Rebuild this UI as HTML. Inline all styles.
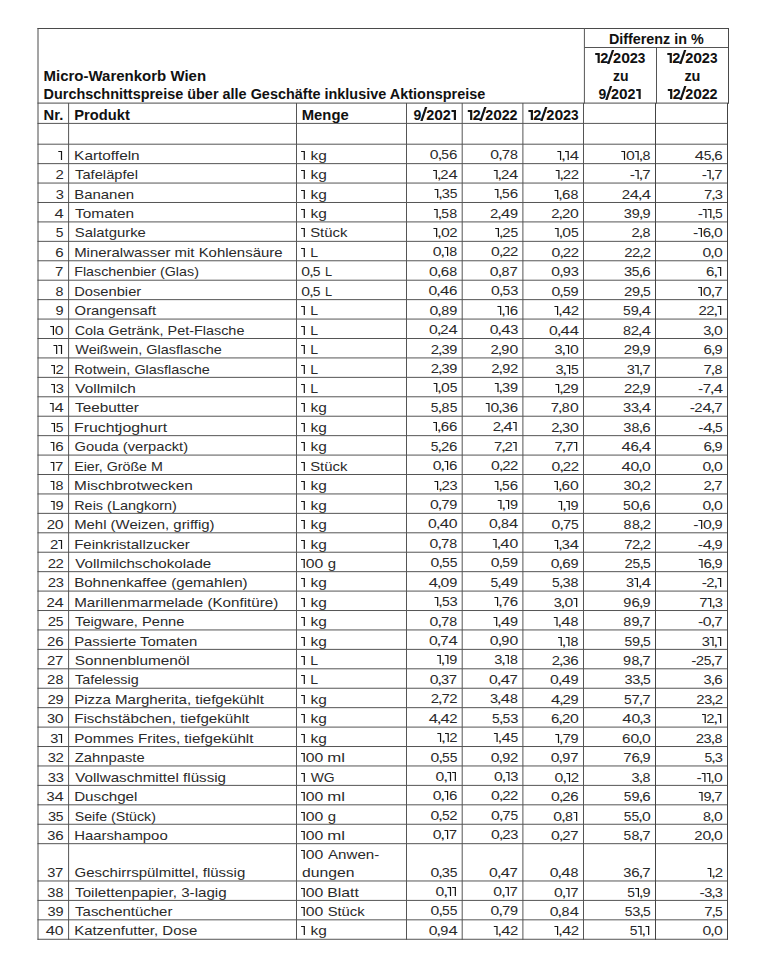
<!DOCTYPE html>
<html><head><meta charset="utf-8"><style>
html,body{margin:0;padding:0;background:#fff;width:765px;height:972px;overflow:hidden}
svg{position:absolute;left:0;top:0}
text,path{fill:#2a2a2a}
path{fill:#151515}
text{font-family:"Liberation Sans",sans-serif;font-size:13.0px}
text.b{font-weight:700;font-size:14.0px;fill:#111}
</style></head><body>
<svg width="765" height="972" viewBox="0 0 765 972">
<g stroke-width="1" fill="none">
<line x1="37.5" y1="28.50" x2="729.0" y2="28.50" stroke="#4a4a4a"/>
<line x1="584.4" y1="47.50" x2="728.5" y2="47.50" stroke="#555"/>
<line x1="37.5" y1="103.10" x2="729.0" y2="103.10" stroke="#4a4a4a"/>
<line x1="37.5" y1="123.40" x2="728.0" y2="123.40" stroke="#555"/>
<line x1="37.5" y1="144.20" x2="728.0" y2="144.20" stroke="#555"/>
<line x1="37.5" y1="163.63" x2="728.0" y2="163.63" stroke="#555"/>
<line x1="37.5" y1="183.06" x2="728.0" y2="183.06" stroke="#555"/>
<line x1="37.5" y1="202.49" x2="728.0" y2="202.49" stroke="#555"/>
<line x1="37.5" y1="221.92" x2="728.0" y2="221.92" stroke="#555"/>
<line x1="37.5" y1="241.35" x2="728.0" y2="241.35" stroke="#555"/>
<line x1="37.5" y1="260.78" x2="728.0" y2="260.78" stroke="#555"/>
<line x1="37.5" y1="280.21" x2="728.0" y2="280.21" stroke="#555"/>
<line x1="37.5" y1="299.64" x2="728.0" y2="299.64" stroke="#555"/>
<line x1="37.5" y1="319.07" x2="728.0" y2="319.07" stroke="#555"/>
<line x1="37.5" y1="338.50" x2="728.0" y2="338.50" stroke="#555"/>
<line x1="37.5" y1="357.93" x2="728.0" y2="357.93" stroke="#555"/>
<line x1="37.5" y1="377.36" x2="728.0" y2="377.36" stroke="#555"/>
<line x1="37.5" y1="396.79" x2="728.0" y2="396.79" stroke="#555"/>
<line x1="37.5" y1="416.22" x2="728.0" y2="416.22" stroke="#555"/>
<line x1="37.5" y1="435.65" x2="728.0" y2="435.65" stroke="#555"/>
<line x1="37.5" y1="455.08" x2="728.0" y2="455.08" stroke="#555"/>
<line x1="37.5" y1="474.51" x2="728.0" y2="474.51" stroke="#555"/>
<line x1="37.5" y1="493.94" x2="728.0" y2="493.94" stroke="#555"/>
<line x1="37.5" y1="513.37" x2="728.0" y2="513.37" stroke="#555"/>
<line x1="37.5" y1="532.80" x2="728.0" y2="532.80" stroke="#555"/>
<line x1="37.5" y1="552.23" x2="728.0" y2="552.23" stroke="#555"/>
<line x1="37.5" y1="571.66" x2="728.0" y2="571.66" stroke="#555"/>
<line x1="37.5" y1="591.09" x2="728.0" y2="591.09" stroke="#555"/>
<line x1="37.5" y1="610.52" x2="728.0" y2="610.52" stroke="#555"/>
<line x1="37.5" y1="629.95" x2="728.0" y2="629.95" stroke="#555"/>
<line x1="37.5" y1="649.38" x2="728.0" y2="649.38" stroke="#555"/>
<line x1="37.5" y1="668.81" x2="728.0" y2="668.81" stroke="#555"/>
<line x1="37.5" y1="688.24" x2="728.0" y2="688.24" stroke="#555"/>
<line x1="37.5" y1="707.67" x2="728.0" y2="707.67" stroke="#555"/>
<line x1="37.5" y1="727.10" x2="728.0" y2="727.10" stroke="#555"/>
<line x1="37.5" y1="746.53" x2="728.0" y2="746.53" stroke="#555"/>
<line x1="37.5" y1="765.96" x2="728.0" y2="765.96" stroke="#555"/>
<line x1="37.5" y1="785.39" x2="728.0" y2="785.39" stroke="#555"/>
<line x1="37.5" y1="804.82" x2="728.0" y2="804.82" stroke="#555"/>
<line x1="37.5" y1="824.25" x2="728.0" y2="824.25" stroke="#555"/>
<line x1="37.5" y1="843.68" x2="728.0" y2="843.68" stroke="#555"/>
<line x1="37.5" y1="880.98" x2="728.0" y2="880.98" stroke="#555"/>
<line x1="37.5" y1="900.41" x2="728.0" y2="900.41" stroke="#555"/>
<line x1="37.5" y1="919.84" x2="728.0" y2="919.84" stroke="#555"/>
<line x1="37.5" y1="939.27" x2="728.0" y2="939.27" stroke="#555"/>
<line x1="38.00" y1="28.00" x2="38.00" y2="939.77" stroke="#4a4a4a"/>
<line x1="68.60" y1="103.00" x2="68.60" y2="939.77" stroke="#555"/>
<line x1="296.50" y1="103.00" x2="296.50" y2="939.77" stroke="#555"/>
<line x1="406.50" y1="103.00" x2="406.50" y2="939.77" stroke="#555"/>
<line x1="462.20" y1="103.00" x2="462.20" y2="939.77" stroke="#555"/>
<line x1="522.90" y1="103.00" x2="522.90" y2="939.77" stroke="#555"/>
<line x1="583.50" y1="103.00" x2="583.50" y2="939.77" stroke="#555"/>
<line x1="655.50" y1="103.00" x2="655.50" y2="939.77" stroke="#444"/>
<line x1="727.50" y1="103.00" x2="727.50" y2="939.77" stroke="#444"/>
<line x1="584.40" y1="28.00" x2="584.40" y2="103.50" stroke="#555"/>
<line x1="656.50" y1="47.50" x2="656.50" y2="103.50" stroke="#555"/>
<line x1="728.50" y1="28.00" x2="728.50" y2="103.50" stroke="#4a4a4a"/>
</g>
<g>
<text class="b" transform="translate(43.54,81) scale(1.0716,1)">Micro-Warenkorb Wien</text>
<text class="b" transform="translate(43.57,99) scale(1.0322,1)">Durchschnittspreise über alle Geschäfte inklusive Aktionspreise</text>
<text class="b" transform="translate(608.88,44) scale(1.0261,1)">Differenz in %</text>
<path class="b" d="M595.20 53.00H599.77V63H597.57V55.00H595.20Z"/><text class="b" transform="translate(600.16,63) scale(1.0448,1)">2</text><path class="b" d="M607.08 63.90H609.38L614.19 50.00H611.89Z"/><text class="b" transform="translate(613.06,63) scale(1.0448,1)">2</text><text class="b" transform="translate(621.19,63) scale(1.1273,1)">0</text><text class="b" transform="translate(629.76,63) scale(1.0448,1)">2</text><text class="b" transform="translate(637.81,63) scale(0.9718,1)">3</text>
<text class="b" transform="translate(612.90,81) scale(1.0000,1)">zu</text>
<text class="b" transform="translate(598.50,99) scale(0.9941,1)">9</text><path class="b" d="M605.26 99.90H607.56L612.22 86.00H609.92Z"/><text class="b" transform="translate(611.12,99) scale(1.0229,1)">2</text><text class="b" transform="translate(619.07,99) scale(1.1037,1)">0</text><text class="b" transform="translate(627.47,99) scale(1.0229,1)">2</text><path class="b" d="M636.23 89.00H640.70V99H638.50V91.00H636.23Z"/>
<path class="b" d="M667.30 53.00H671.87V63H669.67V55.00H667.30Z"/><text class="b" transform="translate(672.26,63) scale(1.0448,1)">2</text><path class="b" d="M679.18 63.90H681.48L686.29 50.00H683.99Z"/><text class="b" transform="translate(685.16,63) scale(1.0448,1)">2</text><text class="b" transform="translate(693.29,63) scale(1.1273,1)">0</text><text class="b" transform="translate(701.86,63) scale(1.0448,1)">2</text><text class="b" transform="translate(709.91,63) scale(0.9718,1)">3</text>
<text class="b" transform="translate(684.38,81) scale(1.0352,1)">zu</text>
<path class="b" d="M667.80 89.00H672.30V99H670.10V91.00H667.80Z"/><text class="b" transform="translate(672.68,99) scale(1.0279,1)">2</text><path class="b" d="M679.49 99.90H681.79L686.48 86.00H684.18Z"/><text class="b" transform="translate(685.37,99) scale(1.0279,1)">2</text><text class="b" transform="translate(693.37,99) scale(1.1092,1)">0</text><text class="b" transform="translate(701.80,99) scale(1.0279,1)">2</text><text class="b" transform="translate(709.50,99) scale(1.0279,1)">2</text>
<text class="b" transform="translate(43.55,120) scale(1.0541,1)">Nr.</text>
<text class="b" transform="translate(74.25,120) scale(1.0516,1)">Produkt</text>
<text class="b" transform="translate(301.75,120) scale(1.0592,1)">Menge</text>
<text class="b" transform="translate(413.50,120) scale(1.0012,1)">9</text><path class="b" d="M420.31 120.90H422.61L427.32 107.00H425.02Z"/><text class="b" transform="translate(426.20,120) scale(1.0302,1)">2</text><text class="b" transform="translate(434.22,120) scale(1.1116,1)">0</text><text class="b" transform="translate(442.67,120) scale(1.0302,1)">2</text><path class="b" d="M451.49 110.00H456.00V120H453.80V112.00H451.49Z"/>
<path class="b" d="M467.80 110.00H472.29V120H470.09V112.00H467.80Z"/><text class="b" transform="translate(472.67,120) scale(1.0259,1)">2</text><path class="b" d="M479.46 120.90H481.76L486.44 107.00H484.14Z"/><text class="b" transform="translate(485.33,120) scale(1.0259,1)">2</text><text class="b" transform="translate(493.32,120) scale(1.1069,1)">0</text><text class="b" transform="translate(501.73,120) scale(1.0259,1)">2</text><text class="b" transform="translate(509.41,120) scale(1.0259,1)">2</text>
<path class="b" d="M528.40 110.00H532.97V120H530.77V112.00H528.40Z"/><text class="b" transform="translate(533.36,120) scale(1.0448,1)">2</text><path class="b" d="M540.28 120.90H542.58L547.39 107.00H545.09Z"/><text class="b" transform="translate(546.26,120) scale(1.0448,1)">2</text><text class="b" transform="translate(554.39,120) scale(1.1273,1)">0</text><text class="b" transform="translate(562.96,120) scale(1.0448,1)">2</text><text class="b" transform="translate(571.01,120) scale(0.9718,1)">3</text>
<path d="M58.30 151.00H62.10V160H60.90V152.10H58.30Z"/>
<text transform="translate(74.12,160) scale(1.1833,1)">Kartoffeln</text>
<path d="M301.10 151.00H304.90V160H303.70V152.10H301.10Z"/>
<text transform="translate(310.55,160) scale(1.1901,1)">kg</text>
<text transform="translate(429.79,159) scale(1.2143,1)">0</text><text transform="translate(437.20,159) scale(1.5000,1)">,</text><text transform="translate(441.32,159) scale(1.0645,1)">5</text><text transform="translate(449.05,159) scale(1.1639,1)">6</text>
<text transform="translate(490.29,159) scale(1.2143,1)">0</text><text transform="translate(497.70,159) scale(1.5000,1)">,</text><text transform="translate(501.66,159) scale(1.1500,1)">7</text><text transform="translate(510.00,159) scale(1.0968,1)">8</text>
<path d="M557.35 151.00H561.15V160H559.95V152.10H557.35Z"/><text transform="translate(560.65,160) scale(1.5000,1)">,</text><path d="M565.00 151.00H568.80V160H567.60V152.10H565.00Z"/><text transform="translate(569.69,160) scale(1.2836,1)">4</text>
<path d="M621.30 151.00H625.10V160H623.90V152.10H621.30Z"/><text transform="translate(625.94,160) scale(1.2143,1)">0</text><path d="M634.90 151.00H638.70V160H637.50V152.10H634.90Z"/><text transform="translate(638.20,160) scale(1.5000,1)">,</text><text transform="translate(642.60,160) scale(1.0968,1)">8</text>
<text transform="translate(694.79,160) scale(1.2836,1)">4</text><text transform="translate(703.82,160) scale(1.0645,1)">5</text><text transform="translate(710.20,160) scale(1.5000,1)">,</text><text transform="translate(714.35,160) scale(1.1639,1)">6</text>
<text transform="translate(55.51,179) scale(1.1500,1)">2</text>
<text transform="translate(75.07,179) scale(1.1324,1)">Tafeläpfel</text>
<path d="M301.10 170.00H304.90V179H303.70V171.10H301.10Z"/>
<text transform="translate(310.55,179) scale(1.1901,1)">kg</text>
<path d="M433.10 170.00H436.90V179H435.70V171.10H433.10Z"/><text transform="translate(436.40,179) scale(1.5000,1)">,</text><text transform="translate(440.26,179) scale(1.1500,1)">2</text><text transform="translate(448.39,179) scale(1.2836,1)">4</text>
<path d="M493.80 170.00H497.60V179H496.40V171.10H493.80Z"/><text transform="translate(497.10,179) scale(1.5000,1)">,</text><text transform="translate(500.96,179) scale(1.1500,1)">2</text><text transform="translate(509.09,179) scale(1.2836,1)">4</text>
<path d="M555.70 170.00H559.50V179H558.30V171.10H555.70Z"/><text transform="translate(559.00,179) scale(1.5000,1)">,</text><text transform="translate(562.86,179) scale(1.1500,1)">2</text><text transform="translate(570.66,179) scale(1.1500,1)">2</text>
<text transform="translate(629.79,179) scale(1.2121,1)">-</text><path d="M634.90 170.00H638.70V179H637.50V171.10H634.90Z"/><text transform="translate(638.20,179) scale(1.5000,1)">,</text><text transform="translate(642.16,179) scale(1.1500,1)">7</text>
<text transform="translate(701.79,179) scale(1.2121,1)">-</text><path d="M706.90 170.00H710.70V179H709.50V171.10H706.90Z"/><text transform="translate(710.20,179) scale(1.5000,1)">,</text><text transform="translate(714.16,179) scale(1.1500,1)">7</text>
<text transform="translate(55.65,199) scale(1.1270,1)">3</text>
<text transform="translate(74.15,199) scale(1.1529,1)">Bananen</text>
<path d="M301.10 190.00H304.90V199H303.70V191.10H301.10Z"/>
<text transform="translate(310.55,199) scale(1.1901,1)">kg</text>
<path d="M434.50 189.00H438.30V198H437.10V190.10H434.50Z"/><text transform="translate(437.80,198) scale(1.5000,1)">,</text><text transform="translate(441.80,198) scale(1.1270,1)">3</text><text transform="translate(449.72,198) scale(1.0645,1)">5</text>
<path d="M494.60 189.00H498.40V198H497.20V190.10H494.60Z"/><text transform="translate(497.90,198) scale(1.5000,1)">,</text><text transform="translate(502.02,198) scale(1.0645,1)">5</text><text transform="translate(509.75,198) scale(1.1639,1)">6</text>
<path d="M554.50 190.00H558.30V199H557.10V191.10H554.50Z"/><text transform="translate(557.80,199) scale(1.5000,1)">,</text><text transform="translate(561.95,199) scale(1.1639,1)">6</text><text transform="translate(570.60,199) scale(1.0968,1)">8</text>
<text transform="translate(621.66,199) scale(1.1500,1)">2</text><text transform="translate(629.79,199) scale(1.2836,1)">4</text><text transform="translate(637.50,199) scale(1.5000,1)">,</text><text transform="translate(641.69,199) scale(1.2836,1)">4</text>
<text transform="translate(704.06,199) scale(1.1500,1)">7</text><text transform="translate(710.80,199) scale(1.5000,1)">,</text><text transform="translate(714.80,199) scale(1.1270,1)">3</text>
<text transform="translate(54.54,218) scale(1.2836,1)">4</text>
<text transform="translate(75.06,218) scale(1.1857,1)">Tomaten</text>
<path d="M301.10 209.00H304.90V218H303.70V210.10H301.10Z"/>
<text transform="translate(310.55,218) scale(1.1901,1)">kg</text>
<path d="M433.90 209.00H437.70V218H436.50V210.10H433.90Z"/><text transform="translate(437.20,218) scale(1.5000,1)">,</text><text transform="translate(441.32,218) scale(1.0645,1)">5</text><text transform="translate(449.30,218) scale(1.0968,1)">8</text>
<text transform="translate(490.06,218) scale(1.1500,1)">2</text><text transform="translate(496.80,218) scale(1.5000,1)">,</text><text transform="translate(500.99,218) scale(1.2836,1)">4</text><text transform="translate(509.98,218) scale(1.1148,1)">9</text>
<text transform="translate(551.31,218) scale(1.1500,1)">2</text><text transform="translate(558.05,218) scale(1.5000,1)">,</text><text transform="translate(561.91,218) scale(1.1500,1)">2</text><text transform="translate(569.99,218) scale(1.2143,1)">0</text>
<text transform="translate(623.80,218) scale(1.1270,1)">3</text><text transform="translate(631.68,218) scale(1.1148,1)">9</text><text transform="translate(638.50,218) scale(1.5000,1)">,</text><text transform="translate(642.58,218) scale(1.1148,1)">9</text>
<text transform="translate(697.64,218) scale(1.2121,1)">-</text><path d="M702.75 209.00H706.55V218H705.35V210.10H702.75Z"/><path d="M707.60 209.00H711.40V218H710.20V210.10H707.60Z"/><text transform="translate(710.90,218) scale(1.5000,1)">,</text><text transform="translate(715.02,218) scale(1.0645,1)">5</text>
<text transform="translate(55.87,237) scale(1.0645,1)">5</text>
<text transform="translate(74.73,237) scale(1.1453,1)">Salatgurke</text>
<path d="M301.10 228.00H304.90V237H303.70V229.10H301.10Z"/>
<text transform="translate(310.13,237) scale(1.1460,1)">Stück</text>
<path d="M433.45 228.00H437.25V237H436.05V229.10H433.45Z"/><text transform="translate(436.75,237) scale(1.5000,1)">,</text><text transform="translate(440.89,237) scale(1.2143,1)">0</text><text transform="translate(449.36,237) scale(1.1500,1)">2</text>
<path d="M495.20 228.00H499.00V237H497.80V229.10H495.20Z"/><text transform="translate(498.50,237) scale(1.5000,1)">,</text><text transform="translate(502.36,237) scale(1.1500,1)">2</text><text transform="translate(510.42,237) scale(1.0645,1)">5</text>
<path d="M554.85 228.00H558.65V237H557.45V229.10H554.85Z"/><text transform="translate(558.15,237) scale(1.5000,1)">,</text><text transform="translate(562.29,237) scale(1.2143,1)">0</text><text transform="translate(571.02,237) scale(1.0645,1)">5</text>
<text transform="translate(631.46,237) scale(1.1500,1)">2</text><text transform="translate(638.20,237) scale(1.5000,1)">,</text><text transform="translate(642.60,237) scale(1.0968,1)">8</text>
<text transform="translate(693.04,237) scale(1.2121,1)">-</text><path d="M698.15 228.00H701.95V237H700.75V229.10H698.15Z"/><text transform="translate(702.80,237) scale(1.1639,1)">6</text><text transform="translate(709.85,237) scale(1.5000,1)">,</text><text transform="translate(713.99,237) scale(1.2143,1)">0</text>
<text transform="translate(55.20,257) scale(1.1639,1)">6</text>
<text transform="translate(74.15,257) scale(1.1495,1)">Mineralwasser mit Kohlensäure</text>
<path d="M301.10 248.00H304.90V257H303.70V249.10H301.10Z"/>
<text transform="translate(310.31,257) scale(1.0862,1)">L</text>
<text transform="translate(432.64,256) scale(1.2143,1)">0</text><text transform="translate(440.05,256) scale(1.5000,1)">,</text><path d="M444.40 247.00H448.20V256H447.00V248.10H444.40Z"/><text transform="translate(449.30,256) scale(1.0968,1)">8</text>
<text transform="translate(490.99,256) scale(1.2143,1)">0</text><text transform="translate(498.40,256) scale(1.5000,1)">,</text><text transform="translate(502.26,256) scale(1.1500,1)">2</text><text transform="translate(510.06,256) scale(1.1500,1)">2</text>
<text transform="translate(551.59,257) scale(1.2143,1)">0</text><text transform="translate(559.00,257) scale(1.5000,1)">,</text><text transform="translate(562.86,257) scale(1.1500,1)">2</text><text transform="translate(570.66,257) scale(1.1500,1)">2</text>
<text transform="translate(624.26,257) scale(1.1500,1)">2</text><text transform="translate(632.06,257) scale(1.1500,1)">2</text><text transform="translate(638.80,257) scale(1.5000,1)">,</text><text transform="translate(642.66,257) scale(1.1500,1)">2</text>
<text transform="translate(702.44,257) scale(1.2143,1)">0</text><text transform="translate(709.85,257) scale(1.5000,1)">,</text><text transform="translate(713.99,257) scale(1.2143,1)">0</text>
<text transform="translate(55.01,276) scale(1.1500,1)">7</text>
<text transform="translate(74.20,276) scale(1.1003,1)">Flaschenbier (Glas)</text>
<text transform="translate(301.29,276) scale(1.2143,1)">0</text><text transform="translate(308.70,276) scale(1.5000,1)">,</text><text transform="translate(312.82,276) scale(1.0645,1)">5</text>
<text transform="translate(325.02,276) scale(0.9828,1)">L</text>
<text transform="translate(429.09,276) scale(1.2143,1)">0</text><text transform="translate(436.50,276) scale(1.5000,1)">,</text><text transform="translate(440.65,276) scale(1.1639,1)">6</text><text transform="translate(449.30,276) scale(1.0968,1)">8</text>
<text transform="translate(489.79,276) scale(1.2143,1)">0</text><text transform="translate(497.20,276) scale(1.5000,1)">,</text><text transform="translate(501.60,276) scale(1.0968,1)">8</text><text transform="translate(509.56,276) scale(1.1500,1)">7</text>
<text transform="translate(551.29,276) scale(1.2143,1)">0</text><text transform="translate(558.70,276) scale(1.5000,1)">,</text><text transform="translate(562.78,276) scale(1.1148,1)">9</text><text transform="translate(570.80,276) scale(1.1270,1)">3</text>
<text transform="translate(623.90,276) scale(1.1270,1)">3</text><text transform="translate(631.82,276) scale(1.0645,1)">5</text><text transform="translate(638.20,276) scale(1.5000,1)">,</text><text transform="translate(642.35,276) scale(1.1639,1)">6</text>
<text transform="translate(706.05,276) scale(1.1639,1)">6</text><text transform="translate(713.10,276) scale(1.5000,1)">,</text><path d="M717.45 267.00H721.25V276H720.05V268.10H717.45Z"/>
<text transform="translate(55.45,296) scale(1.0968,1)">8</text>
<text transform="translate(74.17,296) scale(1.1320,1)">Dosenbier</text>
<text transform="translate(301.29,296) scale(1.2143,1)">0</text><text transform="translate(308.70,296) scale(1.5000,1)">,</text><text transform="translate(312.82,296) scale(1.0645,1)">5</text>
<text transform="translate(325.02,296) scale(0.9828,1)">L</text>
<text transform="translate(428.39,295) scale(1.2143,1)">0</text><text transform="translate(435.80,295) scale(1.5000,1)">,</text><text transform="translate(439.99,295) scale(1.2836,1)">4</text><text transform="translate(449.05,295) scale(1.1639,1)">6</text>
<text transform="translate(491.09,295) scale(1.2143,1)">0</text><text transform="translate(498.50,295) scale(1.5000,1)">,</text><text transform="translate(502.62,295) scale(1.0645,1)">5</text><text transform="translate(510.20,295) scale(1.1270,1)">3</text>
<text transform="translate(551.39,296) scale(1.2143,1)">0</text><text transform="translate(558.80,296) scale(1.5000,1)">,</text><text transform="translate(562.92,296) scale(1.0645,1)">5</text><text transform="translate(570.58,296) scale(1.1148,1)">9</text>
<text transform="translate(624.06,296) scale(1.1500,1)">2</text><text transform="translate(632.08,296) scale(1.1148,1)">9</text><text transform="translate(638.90,296) scale(1.5000,1)">,</text><text transform="translate(643.02,296) scale(1.0645,1)">5</text>
<path d="M698.15 287.00H701.95V296H700.75V288.10H698.15Z"/><text transform="translate(702.79,296) scale(1.2143,1)">0</text><text transform="translate(710.20,296) scale(1.5000,1)">,</text><text transform="translate(714.16,296) scale(1.1500,1)">7</text>
<text transform="translate(55.43,315) scale(1.1148,1)">9</text>
<text transform="translate(74.62,315) scale(1.1391,1)">Orangensaft</text>
<path d="M301.10 306.00H304.90V315H303.70V307.10H301.10Z"/>
<text transform="translate(310.31,315) scale(1.0862,1)">L</text>
<text transform="translate(429.39,315) scale(1.2143,1)">0</text><text transform="translate(436.80,315) scale(1.5000,1)">,</text><text transform="translate(441.20,315) scale(1.0968,1)">8</text><text transform="translate(449.28,315) scale(1.1148,1)">9</text>
<path d="M497.45 306.00H501.25V315H500.05V307.10H497.45Z"/><text transform="translate(500.75,315) scale(1.5000,1)">,</text><path d="M505.10 306.00H508.90V315H507.70V307.10H505.10Z"/><text transform="translate(509.75,315) scale(1.1639,1)">6</text>
<path d="M554.40 306.00H558.20V315H557.00V307.10H554.40Z"/><text transform="translate(557.70,315) scale(1.5000,1)">,</text><text transform="translate(561.89,315) scale(1.2836,1)">4</text><text transform="translate(570.66,315) scale(1.1500,1)">2</text>
<text transform="translate(623.02,315) scale(1.0645,1)">5</text><text transform="translate(630.68,315) scale(1.1148,1)">9</text><text transform="translate(637.50,315) scale(1.5000,1)">,</text><text transform="translate(641.69,315) scale(1.2836,1)">4</text>
<text transform="translate(698.56,315) scale(1.1500,1)">2</text><text transform="translate(706.36,315) scale(1.1500,1)">2</text><text transform="translate(713.10,315) scale(1.5000,1)">,</text><path d="M717.45 306.00H721.25V315H720.05V307.10H717.45Z"/>
<path d="M50.20 326.00H54.00V335H52.80V327.10H50.20Z"/><text transform="translate(54.84,335) scale(1.2143,1)">0</text>
<text transform="translate(74.63,335) scale(1.1089,1)">Cola Getränk, Pet-Flasche</text>
<path d="M301.10 326.00H304.90V335H303.70V327.10H301.10Z"/>
<text transform="translate(310.31,335) scale(1.0862,1)">L</text>
<text transform="translate(428.99,334) scale(1.2143,1)">0</text><text transform="translate(436.40,334) scale(1.5000,1)">,</text><text transform="translate(440.26,334) scale(1.1500,1)">2</text><text transform="translate(448.39,334) scale(1.2836,1)">4</text>
<text transform="translate(489.69,334) scale(1.2143,1)">0</text><text transform="translate(497.10,334) scale(1.5000,1)">,</text><text transform="translate(501.29,334) scale(1.2836,1)">4</text><text transform="translate(510.20,334) scale(1.1270,1)">3</text>
<text transform="translate(548.99,335) scale(1.2143,1)">0</text><text transform="translate(556.40,335) scale(1.5000,1)">,</text><text transform="translate(560.59,335) scale(1.2836,1)">4</text><text transform="translate(569.69,335) scale(1.2836,1)">4</text>
<text transform="translate(622.90,335) scale(1.0968,1)">8</text><text transform="translate(630.76,335) scale(1.1500,1)">2</text><text transform="translate(637.50,335) scale(1.5000,1)">,</text><text transform="translate(641.69,335) scale(1.2836,1)">4</text>
<text transform="translate(703.25,335) scale(1.1270,1)">3</text><text transform="translate(709.85,335) scale(1.5000,1)">,</text><text transform="translate(713.99,335) scale(1.2143,1)">0</text>
<path d="M53.45 345.00H57.25V354H56.05V346.10H53.45Z"/><path d="M58.30 345.00H62.10V354H60.90V346.10H58.30Z"/>
<text transform="translate(75.30,354) scale(1.1107,1)">Weißwein, Glasflasche</text>
<path d="M301.10 345.00H304.90V354H303.70V346.10H301.10Z"/>
<text transform="translate(310.31,354) scale(1.0862,1)">L</text>
<text transform="translate(430.66,354) scale(1.1500,1)">2</text><text transform="translate(437.40,354) scale(1.5000,1)">,</text><text transform="translate(441.40,354) scale(1.1270,1)">3</text><text transform="translate(449.28,354) scale(1.1148,1)">9</text>
<text transform="translate(490.41,354) scale(1.1500,1)">2</text><text transform="translate(497.15,354) scale(1.5000,1)">,</text><text transform="translate(501.23,354) scale(1.1148,1)">9</text><text transform="translate(509.39,354) scale(1.2143,1)">0</text>
<text transform="translate(554.40,354) scale(1.1270,1)">3</text><text transform="translate(561.00,354) scale(1.5000,1)">,</text><path d="M565.35 345.00H569.15V354H567.95V346.10H565.35Z"/><text transform="translate(569.99,354) scale(1.2143,1)">0</text>
<text transform="translate(623.66,354) scale(1.1500,1)">2</text><text transform="translate(631.68,354) scale(1.1148,1)">9</text><text transform="translate(638.50,354) scale(1.5000,1)">,</text><text transform="translate(642.58,354) scale(1.1148,1)">9</text>
<text transform="translate(703.45,354) scale(1.1639,1)">6</text><text transform="translate(710.50,354) scale(1.5000,1)">,</text><text transform="translate(714.58,354) scale(1.1148,1)">9</text>
<path d="M51.15 365.00H54.95V374H53.75V366.10H51.15Z"/><text transform="translate(55.51,374) scale(1.1500,1)">2</text>
<text transform="translate(74.19,374) scale(1.1113,1)">Rotwein, Glasflasche</text>
<path d="M301.10 365.00H304.90V374H303.70V366.10H301.10Z"/>
<text transform="translate(310.31,374) scale(1.0862,1)">L</text>
<text transform="translate(430.66,373) scale(1.1500,1)">2</text><text transform="translate(437.40,373) scale(1.5000,1)">,</text><text transform="translate(441.40,373) scale(1.1270,1)">3</text><text transform="translate(449.28,373) scale(1.1148,1)">9</text>
<text transform="translate(491.36,373) scale(1.1500,1)">2</text><text transform="translate(498.10,373) scale(1.5000,1)">,</text><text transform="translate(502.18,373) scale(1.1148,1)">9</text><text transform="translate(510.06,373) scale(1.1500,1)">2</text>
<text transform="translate(555.45,374) scale(1.1270,1)">3</text><text transform="translate(562.05,374) scale(1.5000,1)">,</text><path d="M566.40 365.00H570.20V374H569.00V366.10H566.40Z"/><text transform="translate(571.02,374) scale(1.0645,1)">5</text>
<text transform="translate(626.75,374) scale(1.1270,1)">3</text><path d="M634.90 365.00H638.70V374H637.50V366.10H634.90Z"/><text transform="translate(638.20,374) scale(1.5000,1)">,</text><text transform="translate(642.16,374) scale(1.1500,1)">7</text>
<text transform="translate(703.46,374) scale(1.1500,1)">7</text><text transform="translate(710.20,374) scale(1.5000,1)">,</text><text transform="translate(714.60,374) scale(1.0968,1)">8</text>
<path d="M51.15 384.00H54.95V393H53.75V385.10H51.15Z"/><text transform="translate(55.65,393) scale(1.1270,1)">3</text>
<text transform="translate(75.30,393) scale(1.1830,1)">Vollmilch</text>
<path d="M301.10 384.00H304.90V393H303.70V385.10H301.10Z"/>
<text transform="translate(310.31,393) scale(1.0862,1)">L</text>
<path d="M433.55 383.00H437.35V392H436.15V384.10H433.55Z"/><text transform="translate(436.85,392) scale(1.5000,1)">,</text><text transform="translate(440.99,392) scale(1.2143,1)">0</text><text transform="translate(449.72,392) scale(1.0645,1)">5</text>
<path d="M494.80 383.00H498.60V392H497.40V384.10H494.80Z"/><text transform="translate(498.10,392) scale(1.5000,1)">,</text><text transform="translate(502.10,392) scale(1.1270,1)">3</text><text transform="translate(509.98,392) scale(1.1148,1)">9</text>
<path d="M555.40 384.00H559.20V393H558.00V385.10H555.40Z"/><text transform="translate(558.70,393) scale(1.5000,1)">,</text><text transform="translate(562.56,393) scale(1.1500,1)">2</text><text transform="translate(570.58,393) scale(1.1148,1)">9</text>
<text transform="translate(623.96,393) scale(1.1500,1)">2</text><text transform="translate(631.76,393) scale(1.1500,1)">2</text><text transform="translate(638.50,393) scale(1.5000,1)">,</text><text transform="translate(642.58,393) scale(1.1148,1)">9</text>
<text transform="translate(698.04,393) scale(1.2121,1)">-</text><text transform="translate(702.76,393) scale(1.1500,1)">7</text><text transform="translate(709.50,393) scale(1.5000,1)">,</text><text transform="translate(713.69,393) scale(1.2836,1)">4</text>
<path d="M49.85 403.00H53.65V412H52.45V404.10H49.85Z"/><text transform="translate(54.54,412) scale(1.2836,1)">4</text>
<text transform="translate(75.06,412) scale(1.1768,1)">Teebutter</text>
<path d="M301.10 403.00H304.90V412H303.70V404.10H301.10Z"/>
<text transform="translate(310.55,412) scale(1.1901,1)">kg</text>
<text transform="translate(430.82,412) scale(1.0645,1)">5</text><text transform="translate(437.20,412) scale(1.5000,1)">,</text><text transform="translate(441.60,412) scale(1.0968,1)">8</text><text transform="translate(449.72,412) scale(1.0645,1)">5</text>
<path d="M485.75 403.00H489.55V412H488.35V404.10H485.75Z"/><text transform="translate(490.39,412) scale(1.2143,1)">0</text><text transform="translate(497.80,412) scale(1.5000,1)">,</text><text transform="translate(501.80,412) scale(1.1270,1)">3</text><text transform="translate(509.75,412) scale(1.1639,1)">6</text>
<text transform="translate(550.71,412) scale(1.1500,1)">7</text><text transform="translate(557.45,412) scale(1.5000,1)">,</text><text transform="translate(561.85,412) scale(1.0968,1)">8</text><text transform="translate(569.99,412) scale(1.2143,1)">0</text>
<text transform="translate(623.10,412) scale(1.1270,1)">3</text><text transform="translate(630.90,412) scale(1.1270,1)">3</text><text transform="translate(637.50,412) scale(1.5000,1)">,</text><text transform="translate(641.69,412) scale(1.2836,1)">4</text>
<text transform="translate(689.74,412) scale(1.2121,1)">-</text><text transform="translate(694.36,412) scale(1.1500,1)">2</text><text transform="translate(702.49,412) scale(1.2836,1)">4</text><text transform="translate(710.20,412) scale(1.5000,1)">,</text><text transform="translate(714.16,412) scale(1.1500,1)">7</text>
<path d="M51.25 423.00H55.05V432H53.85V424.10H51.25Z"/><text transform="translate(55.87,432) scale(1.0645,1)">5</text>
<text transform="translate(74.08,432) scale(1.2159,1)">Fruchtjoghurt</text>
<path d="M301.10 423.00H304.90V432H303.70V424.10H301.10Z"/>
<text transform="translate(310.55,432) scale(1.1901,1)">kg</text>
<path d="M433.20 422.00H437.00V431H435.80V423.10H433.20Z"/><text transform="translate(436.50,431) scale(1.5000,1)">,</text><text transform="translate(440.65,431) scale(1.1639,1)">6</text><text transform="translate(449.05,431) scale(1.1639,1)">6</text>
<text transform="translate(492.66,431) scale(1.1500,1)">2</text><text transform="translate(499.40,431) scale(1.5000,1)">,</text><text transform="translate(503.59,431) scale(1.2836,1)">4</text><path d="M512.85 422.00H516.65V431H515.45V423.10H512.85Z"/>
<text transform="translate(551.31,432) scale(1.1500,1)">2</text><text transform="translate(558.05,432) scale(1.5000,1)">,</text><text transform="translate(562.05,432) scale(1.1270,1)">3</text><text transform="translate(569.99,432) scale(1.2143,1)">0</text>
<text transform="translate(623.20,432) scale(1.1270,1)">3</text><text transform="translate(631.40,432) scale(1.0968,1)">8</text><text transform="translate(638.20,432) scale(1.5000,1)">,</text><text transform="translate(642.35,432) scale(1.1639,1)">6</text>
<text transform="translate(698.24,432) scale(1.2121,1)">-</text><text transform="translate(703.19,432) scale(1.2836,1)">4</text><text transform="translate(710.90,432) scale(1.5000,1)">,</text><text transform="translate(715.02,432) scale(1.0645,1)">5</text>
<path d="M50.55 442.00H54.35V451H53.15V443.10H50.55Z"/><text transform="translate(55.20,451) scale(1.1639,1)">6</text>
<text transform="translate(74.62,451) scale(1.1311,1)">Gouda (verpackt)</text>
<path d="M301.10 442.00H304.90V451H303.70V443.10H301.10Z"/>
<text transform="translate(310.55,451) scale(1.1901,1)">kg</text>
<text transform="translate(430.72,451) scale(1.0645,1)">5</text><text transform="translate(437.10,451) scale(1.5000,1)">,</text><text transform="translate(440.96,451) scale(1.1500,1)">2</text><text transform="translate(449.05,451) scale(1.1639,1)">6</text>
<text transform="translate(493.96,451) scale(1.1500,1)">7</text><text transform="translate(500.70,451) scale(1.5000,1)">,</text><text transform="translate(504.56,451) scale(1.1500,1)">2</text><path d="M512.85 442.00H516.65V451H515.45V443.10H512.85Z"/>
<text transform="translate(554.46,451) scale(1.1500,1)">7</text><text transform="translate(561.20,451) scale(1.5000,1)">,</text><text transform="translate(565.16,451) scale(1.1500,1)">7</text><path d="M573.45 442.00H577.25V451H576.05V443.10H573.45Z"/>
<text transform="translate(621.39,451) scale(1.2836,1)">4</text><text transform="translate(630.45,451) scale(1.1639,1)">6</text><text transform="translate(637.50,451) scale(1.5000,1)">,</text><text transform="translate(641.69,451) scale(1.2836,1)">4</text>
<text transform="translate(703.45,451) scale(1.1639,1)">6</text><text transform="translate(710.50,451) scale(1.5000,1)">,</text><text transform="translate(714.58,451) scale(1.1148,1)">9</text>
<path d="M50.55 462.00H54.35V471H53.15V463.10H50.55Z"/><text transform="translate(55.01,471) scale(1.1500,1)">7</text>
<text transform="translate(74.20,471) scale(1.0966,1)">Eier, Größe M</text>
<path d="M301.10 462.00H304.90V471H303.70V463.10H301.10Z"/>
<text transform="translate(310.13,471) scale(1.1460,1)">Stück</text>
<text transform="translate(432.64,470) scale(1.2143,1)">0</text><text transform="translate(440.05,470) scale(1.5000,1)">,</text><path d="M444.40 461.00H448.20V470H447.00V462.10H444.40Z"/><text transform="translate(449.05,470) scale(1.1639,1)">6</text>
<text transform="translate(490.99,470) scale(1.2143,1)">0</text><text transform="translate(498.40,470) scale(1.5000,1)">,</text><text transform="translate(502.26,470) scale(1.1500,1)">2</text><text transform="translate(510.06,470) scale(1.1500,1)">2</text>
<text transform="translate(551.59,471) scale(1.2143,1)">0</text><text transform="translate(559.00,471) scale(1.5000,1)">,</text><text transform="translate(562.86,471) scale(1.1500,1)">2</text><text transform="translate(570.66,471) scale(1.1500,1)">2</text>
<text transform="translate(621.39,471) scale(1.2836,1)">4</text><text transform="translate(630.44,471) scale(1.2143,1)">0</text><text transform="translate(637.85,471) scale(1.5000,1)">,</text><text transform="translate(641.99,471) scale(1.2143,1)">0</text>
<text transform="translate(702.44,471) scale(1.2143,1)">0</text><text transform="translate(709.85,471) scale(1.5000,1)">,</text><text transform="translate(713.99,471) scale(1.2143,1)">0</text>
<path d="M50.55 481.00H54.35V490H53.15V482.10H50.55Z"/><text transform="translate(55.45,490) scale(1.0968,1)">8</text>
<text transform="translate(74.12,490) scale(1.1826,1)">Mischbrotwecken</text>
<path d="M301.10 481.00H304.90V490H303.70V482.10H301.10Z"/>
<text transform="translate(310.55,490) scale(1.1901,1)">kg</text>
<path d="M434.40 481.00H438.20V490H437.00V482.10H434.40Z"/><text transform="translate(437.70,490) scale(1.5000,1)">,</text><text transform="translate(441.56,490) scale(1.1500,1)">2</text><text transform="translate(449.50,490) scale(1.1270,1)">3</text>
<path d="M494.60 481.00H498.40V490H497.20V482.10H494.60Z"/><text transform="translate(497.90,490) scale(1.5000,1)">,</text><text transform="translate(502.02,490) scale(1.0645,1)">5</text><text transform="translate(509.75,490) scale(1.1639,1)">6</text>
<path d="M554.15 481.00H557.95V490H556.75V482.10H554.15Z"/><text transform="translate(557.45,490) scale(1.5000,1)">,</text><text transform="translate(561.60,490) scale(1.1639,1)">6</text><text transform="translate(569.99,490) scale(1.2143,1)">0</text>
<text transform="translate(623.45,490) scale(1.1270,1)">3</text><text transform="translate(631.39,490) scale(1.2143,1)">0</text><text transform="translate(638.80,490) scale(1.5000,1)">,</text><text transform="translate(642.66,490) scale(1.1500,1)">2</text>
<text transform="translate(703.46,490) scale(1.1500,1)">2</text><text transform="translate(710.20,490) scale(1.5000,1)">,</text><text transform="translate(714.16,490) scale(1.1500,1)">7</text>
<path d="M50.85 501.00H54.65V510H53.45V502.10H50.85Z"/><text transform="translate(55.43,510) scale(1.1148,1)">9</text>
<text transform="translate(74.19,510) scale(1.1118,1)">Reis (Langkorn)</text>
<path d="M301.10 501.00H304.90V510H303.70V502.10H301.10Z"/>
<text transform="translate(310.55,510) scale(1.1901,1)">kg</text>
<text transform="translate(429.89,509) scale(1.2143,1)">0</text><text transform="translate(437.30,509) scale(1.5000,1)">,</text><text transform="translate(441.26,509) scale(1.1500,1)">7</text><text transform="translate(449.28,509) scale(1.1148,1)">9</text>
<path d="M497.75 500.00H501.55V509H500.35V501.10H497.75Z"/><text transform="translate(501.05,509) scale(1.5000,1)">,</text><path d="M505.40 500.00H509.20V509H508.00V501.10H505.40Z"/><text transform="translate(509.98,509) scale(1.1148,1)">9</text>
<path d="M558.35 501.00H562.15V510H560.95V502.10H558.35Z"/><text transform="translate(561.65,510) scale(1.5000,1)">,</text><path d="M566.00 501.00H569.80V510H568.60V502.10H566.00Z"/><text transform="translate(570.58,510) scale(1.1148,1)">9</text>
<text transform="translate(623.07,510) scale(1.0645,1)">5</text><text transform="translate(630.79,510) scale(1.2143,1)">0</text><text transform="translate(638.20,510) scale(1.5000,1)">,</text><text transform="translate(642.35,510) scale(1.1639,1)">6</text>
<text transform="translate(702.44,510) scale(1.2143,1)">0</text><text transform="translate(709.85,510) scale(1.5000,1)">,</text><text transform="translate(713.99,510) scale(1.2143,1)">0</text>
<text transform="translate(46.76,529) scale(1.1500,1)">2</text><text transform="translate(54.84,529) scale(1.2143,1)">0</text>
<text transform="translate(74.15,529) scale(1.1483,1)">Mehl (Weizen, griffig)</text>
<path d="M301.10 520.00H304.90V529H303.70V521.10H301.10Z"/>
<text transform="translate(310.55,529) scale(1.1901,1)">kg</text>
<text transform="translate(428.04,528) scale(1.2143,1)">0</text><text transform="translate(435.45,528) scale(1.5000,1)">,</text><text transform="translate(439.64,528) scale(1.2836,1)">4</text><text transform="translate(448.69,528) scale(1.2143,1)">0</text>
<text transform="translate(489.09,528) scale(1.2143,1)">0</text><text transform="translate(496.50,528) scale(1.5000,1)">,</text><text transform="translate(500.90,528) scale(1.0968,1)">8</text><text transform="translate(509.09,528) scale(1.2836,1)">4</text>
<text transform="translate(551.59,529) scale(1.2143,1)">0</text><text transform="translate(559.00,529) scale(1.5000,1)">,</text><text transform="translate(562.96,529) scale(1.1500,1)">7</text><text transform="translate(571.02,529) scale(1.0645,1)">5</text>
<text transform="translate(623.60,529) scale(1.0968,1)">8</text><text transform="translate(632.00,529) scale(1.0968,1)">8</text><text transform="translate(638.80,529) scale(1.5000,1)">,</text><text transform="translate(642.66,529) scale(1.1500,1)">2</text>
<text transform="translate(693.34,529) scale(1.2121,1)">-</text><path d="M698.45 520.00H702.25V529H701.05V521.10H698.45Z"/><text transform="translate(703.09,529) scale(1.2143,1)">0</text><text transform="translate(710.50,529) scale(1.5000,1)">,</text><text transform="translate(714.58,529) scale(1.1148,1)">9</text>
<text transform="translate(50.01,549) scale(1.1500,1)">2</text><path d="M58.30 540.00H62.10V549H60.90V541.10H58.30Z"/>
<text transform="translate(74.15,549) scale(1.1533,1)">Feinkristallzucker</text>
<path d="M301.10 540.00H304.90V549H303.70V541.10H301.10Z"/>
<text transform="translate(310.55,549) scale(1.1901,1)">kg</text>
<text transform="translate(429.59,548) scale(1.2143,1)">0</text><text transform="translate(437.00,548) scale(1.5000,1)">,</text><text transform="translate(440.96,548) scale(1.1500,1)">7</text><text transform="translate(449.30,548) scale(1.0968,1)">8</text>
<path d="M492.85 539.00H496.65V548H495.45V540.10H492.85Z"/><text transform="translate(496.15,548) scale(1.5000,1)">,</text><text transform="translate(500.34,548) scale(1.2836,1)">4</text><text transform="translate(509.39,548) scale(1.2143,1)">0</text>
<path d="M554.40 540.00H558.20V549H557.00V541.10H554.40Z"/><text transform="translate(557.70,549) scale(1.5000,1)">,</text><text transform="translate(561.70,549) scale(1.1270,1)">3</text><text transform="translate(569.69,549) scale(1.2836,1)">4</text>
<text transform="translate(624.26,549) scale(1.1500,1)">7</text><text transform="translate(632.06,549) scale(1.1500,1)">2</text><text transform="translate(638.80,549) scale(1.5000,1)">,</text><text transform="translate(642.66,549) scale(1.1500,1)">2</text>
<text transform="translate(697.84,549) scale(1.2121,1)">-</text><text transform="translate(702.79,549) scale(1.2836,1)">4</text><text transform="translate(710.50,549) scale(1.5000,1)">,</text><text transform="translate(714.58,549) scale(1.1148,1)">9</text>
<text transform="translate(47.71,568) scale(1.1500,1)">2</text><text transform="translate(55.51,568) scale(1.1500,1)">2</text>
<text transform="translate(75.30,568) scale(1.1628,1)">Vollmilchschokolade</text>
<path d="M301.00 559.00H304.80V568H303.60V560.10H301.00Z"/><text transform="translate(305.64,568) scale(1.2143,1)">0</text><text transform="translate(314.39,568) scale(1.2143,1)">0</text>
<text transform="translate(327.72,568) scale(1.1525,1)">g</text>
<text transform="translate(430.49,567) scale(1.2143,1)">0</text><text transform="translate(437.90,567) scale(1.5000,1)">,</text><text transform="translate(442.02,567) scale(1.0645,1)">5</text><text transform="translate(449.72,567) scale(1.0645,1)">5</text>
<text transform="translate(490.79,567) scale(1.2143,1)">0</text><text transform="translate(498.20,567) scale(1.5000,1)">,</text><text transform="translate(502.32,567) scale(1.0645,1)">5</text><text transform="translate(509.98,567) scale(1.1148,1)">9</text>
<text transform="translate(550.69,568) scale(1.2143,1)">0</text><text transform="translate(558.10,568) scale(1.5000,1)">,</text><text transform="translate(562.25,568) scale(1.1639,1)">6</text><text transform="translate(570.58,568) scale(1.1148,1)">9</text>
<text transform="translate(624.46,568) scale(1.1500,1)">2</text><text transform="translate(632.52,568) scale(1.0645,1)">5</text><text transform="translate(638.90,568) scale(1.5000,1)">,</text><text transform="translate(643.02,568) scale(1.0645,1)">5</text>
<path d="M698.80 559.00H702.60V568H701.40V560.10H698.80Z"/><text transform="translate(703.45,568) scale(1.1639,1)">6</text><text transform="translate(710.50,568) scale(1.5000,1)">,</text><text transform="translate(714.58,568) scale(1.1148,1)">9</text>
<text transform="translate(47.71,587) scale(1.1500,1)">2</text><text transform="translate(55.65,587) scale(1.1270,1)">3</text>
<text transform="translate(74.14,587) scale(1.1623,1)">Bohnenkaffee (gemahlen)</text>
<path d="M301.10 578.00H304.90V587H303.70V579.10H301.10Z"/>
<text transform="translate(310.55,587) scale(1.1901,1)">kg</text>
<text transform="translate(428.74,587) scale(1.2836,1)">4</text><text transform="translate(436.45,587) scale(1.5000,1)">,</text><text transform="translate(440.59,587) scale(1.2143,1)">0</text><text transform="translate(449.28,587) scale(1.1148,1)">9</text>
<text transform="translate(490.42,587) scale(1.0645,1)">5</text><text transform="translate(496.80,587) scale(1.5000,1)">,</text><text transform="translate(500.99,587) scale(1.2836,1)">4</text><text transform="translate(509.98,587) scale(1.1148,1)">9</text>
<text transform="translate(552.02,587) scale(1.0645,1)">5</text><text transform="translate(558.40,587) scale(1.5000,1)">,</text><text transform="translate(562.40,587) scale(1.1270,1)">3</text><text transform="translate(570.60,587) scale(1.0968,1)">8</text>
<text transform="translate(626.05,587) scale(1.1270,1)">3</text><path d="M634.20 578.00H638.00V587H636.80V579.10H634.20Z"/><text transform="translate(637.50,587) scale(1.5000,1)">,</text><text transform="translate(641.69,587) scale(1.2836,1)">4</text>
<text transform="translate(701.74,587) scale(1.2121,1)">-</text><text transform="translate(706.36,587) scale(1.1500,1)">2</text><text transform="translate(713.10,587) scale(1.5000,1)">,</text><path d="M717.45 578.00H721.25V587H720.05V579.10H717.45Z"/>
<text transform="translate(46.41,607) scale(1.1500,1)">2</text><text transform="translate(54.54,607) scale(1.2836,1)">4</text>
<text transform="translate(74.13,607) scale(1.1686,1)">Marillenmarmelade (Konfitüre)</text>
<path d="M301.10 598.00H304.90V607H303.70V599.10H301.10Z"/>
<text transform="translate(310.55,607) scale(1.1901,1)">kg</text>
<path d="M434.50 597.00H438.30V606H437.10V598.10H434.50Z"/><text transform="translate(437.80,606) scale(1.5000,1)">,</text><text transform="translate(441.92,606) scale(1.0645,1)">5</text><text transform="translate(449.50,606) scale(1.1270,1)">3</text>
<path d="M494.40 597.00H498.20V606H497.00V598.10H494.40Z"/><text transform="translate(497.70,606) scale(1.5000,1)">,</text><text transform="translate(501.66,606) scale(1.1500,1)">7</text><text transform="translate(509.75,606) scale(1.1639,1)">6</text>
<text transform="translate(553.75,607) scale(1.1270,1)">3</text><text transform="translate(560.35,607) scale(1.5000,1)">,</text><text transform="translate(564.49,607) scale(1.2143,1)">0</text><path d="M573.45 598.00H577.25V607H576.05V599.10H573.45Z"/>
<text transform="translate(623.28,607) scale(1.1148,1)">9</text><text transform="translate(631.45,607) scale(1.1639,1)">6</text><text transform="translate(638.50,607) scale(1.5000,1)">,</text><text transform="translate(642.58,607) scale(1.1148,1)">9</text>
<text transform="translate(699.21,607) scale(1.1500,1)">7</text><path d="M707.50 598.00H711.30V607H710.10V599.10H707.50Z"/><text transform="translate(710.80,607) scale(1.5000,1)">,</text><text transform="translate(714.80,607) scale(1.1270,1)">3</text>
<text transform="translate(47.81,626) scale(1.1500,1)">2</text><text transform="translate(55.87,626) scale(1.0645,1)">5</text>
<text transform="translate(75.07,626) scale(1.1289,1)">Teigware, Penne</text>
<path d="M301.10 617.00H304.90V626H303.70V618.10H301.10Z"/>
<text transform="translate(310.55,626) scale(1.1901,1)">kg</text>
<text transform="translate(429.59,626) scale(1.2143,1)">0</text><text transform="translate(437.00,626) scale(1.5000,1)">,</text><text transform="translate(440.96,626) scale(1.1500,1)">7</text><text transform="translate(449.30,626) scale(1.0968,1)">8</text>
<path d="M493.50 617.00H497.30V626H496.10V618.10H493.50Z"/><text transform="translate(496.80,626) scale(1.5000,1)">,</text><text transform="translate(500.99,626) scale(1.2836,1)">4</text><text transform="translate(509.98,626) scale(1.1148,1)">9</text>
<path d="M553.80 617.00H557.60V626H556.40V618.10H553.80Z"/><text transform="translate(557.10,626) scale(1.5000,1)">,</text><text transform="translate(561.29,626) scale(1.2836,1)">4</text><text transform="translate(570.60,626) scale(1.0968,1)">8</text>
<text transform="translate(623.30,626) scale(1.0968,1)">8</text><text transform="translate(631.38,626) scale(1.1148,1)">9</text><text transform="translate(638.20,626) scale(1.5000,1)">,</text><text transform="translate(642.16,626) scale(1.1500,1)">7</text>
<text transform="translate(697.89,626) scale(1.2121,1)">-</text><text transform="translate(702.79,626) scale(1.2143,1)">0</text><text transform="translate(710.20,626) scale(1.5000,1)">,</text><text transform="translate(714.16,626) scale(1.1500,1)">7</text>
<text transform="translate(47.11,646) scale(1.1500,1)">2</text><text transform="translate(55.20,646) scale(1.1639,1)">6</text>
<text transform="translate(74.15,646) scale(1.1471,1)">Passierte Tomaten</text>
<path d="M301.10 637.00H304.90V646H303.70V638.10H301.10Z"/>
<text transform="translate(310.55,646) scale(1.1901,1)">kg</text>
<text transform="translate(428.89,645) scale(1.2143,1)">0</text><text transform="translate(436.30,645) scale(1.5000,1)">,</text><text transform="translate(440.26,645) scale(1.1500,1)">7</text><text transform="translate(448.39,645) scale(1.2836,1)">4</text>
<text transform="translate(489.74,645) scale(1.2143,1)">0</text><text transform="translate(497.15,645) scale(1.5000,1)">,</text><text transform="translate(501.23,645) scale(1.1148,1)">9</text><text transform="translate(509.39,645) scale(1.2143,1)">0</text>
<path d="M558.05 637.00H561.85V646H560.65V638.10H558.05Z"/><text transform="translate(561.35,646) scale(1.5000,1)">,</text><path d="M565.70 637.00H569.50V646H568.30V638.10H565.70Z"/><text transform="translate(570.60,646) scale(1.0968,1)">8</text>
<text transform="translate(624.42,646) scale(1.0645,1)">5</text><text transform="translate(632.08,646) scale(1.1148,1)">9</text><text transform="translate(638.90,646) scale(1.5000,1)">,</text><text transform="translate(643.02,646) scale(1.0645,1)">5</text>
<text transform="translate(701.65,646) scale(1.1270,1)">3</text><path d="M709.80 637.00H713.60V646H712.40V638.10H709.80Z"/><text transform="translate(713.10,646) scale(1.5000,1)">,</text><path d="M717.45 637.00H721.25V646H720.05V638.10H717.45Z"/>
<text transform="translate(47.11,665) scale(1.1500,1)">2</text><text transform="translate(55.01,665) scale(1.1500,1)">7</text>
<text transform="translate(74.71,665) scale(1.1798,1)">Sonnenblumenöl</text>
<path d="M301.10 656.00H304.90V665H303.70V657.10H301.10Z"/>
<text transform="translate(310.31,665) scale(1.0862,1)">L</text>
<path d="M437.05 655.00H440.85V664H439.65V656.10H437.05Z"/><text transform="translate(440.35,664) scale(1.5000,1)">,</text><path d="M444.70 655.00H448.50V664H447.30V656.10H444.70Z"/><text transform="translate(449.28,664) scale(1.1148,1)">9</text>
<text transform="translate(494.15,664) scale(1.1270,1)">3</text><text transform="translate(500.75,664) scale(1.5000,1)">,</text><path d="M505.10 655.00H508.90V664H507.70V656.10H505.10Z"/><text transform="translate(510.00,664) scale(1.0968,1)">8</text>
<text transform="translate(551.66,665) scale(1.1500,1)">2</text><text transform="translate(558.40,665) scale(1.5000,1)">,</text><text transform="translate(562.40,665) scale(1.1270,1)">3</text><text transform="translate(570.35,665) scale(1.1639,1)">6</text>
<text transform="translate(622.98,665) scale(1.1148,1)">9</text><text transform="translate(631.40,665) scale(1.0968,1)">8</text><text transform="translate(638.20,665) scale(1.5000,1)">,</text><text transform="translate(642.16,665) scale(1.1500,1)">7</text>
<text transform="translate(691.14,665) scale(1.2121,1)">-</text><text transform="translate(695.76,665) scale(1.1500,1)">2</text><text transform="translate(703.82,665) scale(1.0645,1)">5</text><text transform="translate(710.20,665) scale(1.5000,1)">,</text><text transform="translate(714.16,665) scale(1.1500,1)">7</text>
<text transform="translate(47.11,684) scale(1.1500,1)">2</text><text transform="translate(55.45,684) scale(1.0968,1)">8</text>
<text transform="translate(75.08,684) scale(1.1008,1)">Tafelessig</text>
<path d="M301.10 675.00H304.90V684H303.70V676.10H301.10Z"/>
<text transform="translate(310.31,684) scale(1.0862,1)">L</text>
<text transform="translate(429.69,684) scale(1.2143,1)">0</text><text transform="translate(437.10,684) scale(1.5000,1)">,</text><text transform="translate(441.10,684) scale(1.1270,1)">3</text><text transform="translate(448.86,684) scale(1.1500,1)">7</text>
<text transform="translate(489.09,684) scale(1.2143,1)">0</text><text transform="translate(496.50,684) scale(1.5000,1)">,</text><text transform="translate(500.69,684) scale(1.2836,1)">4</text><text transform="translate(509.56,684) scale(1.1500,1)">7</text>
<text transform="translate(549.99,684) scale(1.2143,1)">0</text><text transform="translate(557.40,684) scale(1.5000,1)">,</text><text transform="translate(561.59,684) scale(1.2836,1)">4</text><text transform="translate(570.58,684) scale(1.1148,1)">9</text>
<text transform="translate(624.50,684) scale(1.1270,1)">3</text><text transform="translate(632.30,684) scale(1.1270,1)">3</text><text transform="translate(638.90,684) scale(1.5000,1)">,</text><text transform="translate(643.02,684) scale(1.0645,1)">5</text>
<text transform="translate(703.60,684) scale(1.1270,1)">3</text><text transform="translate(710.20,684) scale(1.5000,1)">,</text><text transform="translate(714.35,684) scale(1.1639,1)">6</text>
<text transform="translate(47.41,704) scale(1.1500,1)">2</text><text transform="translate(55.43,704) scale(1.1148,1)">9</text>
<text transform="translate(74.14,704) scale(1.1576,1)">Pizza Margherita, tiefgekühlt</text>
<path d="M301.10 695.00H304.90V704H303.70V696.10H301.10Z"/>
<text transform="translate(310.55,704) scale(1.1901,1)">kg</text>
<text transform="translate(430.86,703) scale(1.1500,1)">2</text><text transform="translate(437.60,703) scale(1.5000,1)">,</text><text transform="translate(441.56,703) scale(1.1500,1)">7</text><text transform="translate(449.36,703) scale(1.1500,1)">2</text>
<text transform="translate(489.90,703) scale(1.1270,1)">3</text><text transform="translate(496.50,703) scale(1.5000,1)">,</text><text transform="translate(500.69,703) scale(1.2836,1)">4</text><text transform="translate(510.00,703) scale(1.0968,1)">8</text>
<text transform="translate(550.99,704) scale(1.2836,1)">4</text><text transform="translate(558.70,704) scale(1.5000,1)">,</text><text transform="translate(562.56,704) scale(1.1500,1)">2</text><text transform="translate(570.58,704) scale(1.1148,1)">9</text>
<text transform="translate(623.92,704) scale(1.0645,1)">5</text><text transform="translate(631.46,704) scale(1.1500,1)">7</text><text transform="translate(638.20,704) scale(1.5000,1)">,</text><text transform="translate(642.16,704) scale(1.1500,1)">7</text>
<text transform="translate(696.26,704) scale(1.1500,1)">2</text><text transform="translate(704.20,704) scale(1.1270,1)">3</text><text transform="translate(710.80,704) scale(1.5000,1)">,</text><text transform="translate(714.66,704) scale(1.1500,1)">2</text>
<text transform="translate(46.90,723) scale(1.1270,1)">3</text><text transform="translate(54.84,723) scale(1.2143,1)">0</text>
<text transform="translate(74.13,723) scale(1.1655,1)">Fischstäbchen, tiefgekühlt</text>
<path d="M301.10 714.00H304.90V723H303.70V715.10H301.10Z"/>
<text transform="translate(310.55,723) scale(1.1901,1)">kg</text>
<text transform="translate(428.69,723) scale(1.2836,1)">4</text><text transform="translate(436.40,723) scale(1.5000,1)">,</text><text transform="translate(440.59,723) scale(1.2836,1)">4</text><text transform="translate(449.36,723) scale(1.1500,1)">2</text>
<text transform="translate(492.12,723) scale(1.0645,1)">5</text><text transform="translate(498.50,723) scale(1.5000,1)">,</text><text transform="translate(502.62,723) scale(1.0645,1)">5</text><text transform="translate(510.20,723) scale(1.1270,1)">3</text>
<text transform="translate(551.00,723) scale(1.1639,1)">6</text><text transform="translate(558.05,723) scale(1.5000,1)">,</text><text transform="translate(561.91,723) scale(1.1500,1)">2</text><text transform="translate(569.99,723) scale(1.2143,1)">0</text>
<text transform="translate(622.34,723) scale(1.2836,1)">4</text><text transform="translate(631.39,723) scale(1.2143,1)">0</text><text transform="translate(638.80,723) scale(1.5000,1)">,</text><text transform="translate(642.80,723) scale(1.1270,1)">3</text>
<path d="M702.00 714.00H705.80V723H704.60V715.10H702.00Z"/><text transform="translate(706.36,723) scale(1.1500,1)">2</text><text transform="translate(713.10,723) scale(1.5000,1)">,</text><path d="M717.45 714.00H721.25V723H720.05V715.10H717.45Z"/>
<text transform="translate(50.15,743) scale(1.1270,1)">3</text><path d="M58.30 734.00H62.10V743H60.90V735.10H58.30Z"/>
<text transform="translate(74.13,743) scale(1.1657,1)">Pommes Frites, tiefgekühlt</text>
<path d="M301.10 734.00H304.90V743H303.70V735.10H301.10Z"/>
<text transform="translate(310.55,743) scale(1.1901,1)">kg</text>
<path d="M437.35 733.00H441.15V742H439.95V734.10H437.35Z"/><text transform="translate(440.65,742) scale(1.5000,1)">,</text><path d="M445.00 733.00H448.80V742H447.60V734.10H445.00Z"/><text transform="translate(449.36,742) scale(1.1500,1)">2</text>
<path d="M493.90 733.00H497.70V742H496.50V734.10H493.90Z"/><text transform="translate(497.20,742) scale(1.5000,1)">,</text><text transform="translate(501.39,742) scale(1.2836,1)">4</text><text transform="translate(510.42,742) scale(1.0645,1)">5</text>
<path d="M555.30 734.00H559.10V743H557.90V735.10H555.30Z"/><text transform="translate(558.60,743) scale(1.5000,1)">,</text><text transform="translate(562.56,743) scale(1.1500,1)">7</text><text transform="translate(570.58,743) scale(1.1148,1)">9</text>
<text transform="translate(622.05,743) scale(1.1639,1)">6</text><text transform="translate(630.44,743) scale(1.2143,1)">0</text><text transform="translate(637.85,743) scale(1.5000,1)">,</text><text transform="translate(641.99,743) scale(1.2143,1)">0</text>
<text transform="translate(695.66,743) scale(1.1500,1)">2</text><text transform="translate(703.60,743) scale(1.1270,1)">3</text><text transform="translate(710.20,743) scale(1.5000,1)">,</text><text transform="translate(714.60,743) scale(1.0968,1)">8</text>
<text transform="translate(47.85,762) scale(1.1270,1)">3</text><text transform="translate(55.51,762) scale(1.1500,1)">2</text>
<text transform="translate(74.85,762) scale(1.1371,1)">Zahnpaste</text>
<path d="M301.00 753.00H304.80V762H303.60V754.10H301.00Z"/><text transform="translate(305.64,762) scale(1.2143,1)">0</text><text transform="translate(314.39,762) scale(1.2143,1)">0</text>
<text transform="translate(327.36,762) scale(1.2944,1)">ml</text>
<text transform="translate(430.49,762) scale(1.2143,1)">0</text><text transform="translate(437.90,762) scale(1.5000,1)">,</text><text transform="translate(442.02,762) scale(1.0645,1)">5</text><text transform="translate(449.72,762) scale(1.0645,1)">5</text>
<text transform="translate(490.69,762) scale(1.2143,1)">0</text><text transform="translate(498.10,762) scale(1.5000,1)">,</text><text transform="translate(502.18,762) scale(1.1148,1)">9</text><text transform="translate(510.06,762) scale(1.1500,1)">2</text>
<text transform="translate(550.69,762) scale(1.2143,1)">0</text><text transform="translate(558.10,762) scale(1.5000,1)">,</text><text transform="translate(562.18,762) scale(1.1148,1)">9</text><text transform="translate(570.16,762) scale(1.1500,1)">7</text>
<text transform="translate(623.36,762) scale(1.1500,1)">7</text><text transform="translate(631.45,762) scale(1.1639,1)">6</text><text transform="translate(638.50,762) scale(1.5000,1)">,</text><text transform="translate(642.58,762) scale(1.1148,1)">9</text>
<text transform="translate(704.42,762) scale(1.0645,1)">5</text><text transform="translate(710.80,762) scale(1.5000,1)">,</text><text transform="translate(714.80,762) scale(1.1270,1)">3</text>
<text transform="translate(47.85,782) scale(1.1270,1)">3</text><text transform="translate(55.65,782) scale(1.1270,1)">3</text>
<text transform="translate(75.30,782) scale(1.1666,1)">Vollwaschmittel flüssig</text>
<path d="M301.10 773.00H304.90V782H303.70V774.10H301.10Z"/>
<text transform="translate(310.70,782) scale(1.0713,1)">WG</text>
<text transform="translate(435.54,781) scale(1.2143,1)">0</text><text transform="translate(442.95,781) scale(1.5000,1)">,</text><path d="M447.30 772.00H451.10V781H449.90V773.10H447.30Z"/><path d="M452.15 772.00H455.95V781H454.75V773.10H452.15Z"/>
<text transform="translate(493.94,781) scale(1.2143,1)">0</text><text transform="translate(501.35,781) scale(1.5000,1)">,</text><path d="M505.70 772.00H509.50V781H508.30V773.10H505.70Z"/><text transform="translate(510.20,781) scale(1.1270,1)">3</text>
<text transform="translate(554.54,782) scale(1.2143,1)">0</text><text transform="translate(561.95,782) scale(1.5000,1)">,</text><path d="M566.30 773.00H570.10V782H568.90V774.10H566.30Z"/><text transform="translate(570.66,782) scale(1.1500,1)">2</text>
<text transform="translate(631.60,782) scale(1.1270,1)">3</text><text transform="translate(638.20,782) scale(1.5000,1)">,</text><text transform="translate(642.60,782) scale(1.0968,1)">8</text>
<text transform="translate(696.59,782) scale(1.2121,1)">-</text><path d="M701.70 773.00H705.50V782H704.30V774.10H701.70Z"/><path d="M706.55 773.00H710.35V782H709.15V774.10H706.55Z"/><text transform="translate(709.85,782) scale(1.5000,1)">,</text><text transform="translate(713.99,782) scale(1.2143,1)">0</text>
<text transform="translate(46.55,801) scale(1.1270,1)">3</text><text transform="translate(54.54,801) scale(1.2836,1)">4</text>
<text transform="translate(74.13,801) scale(1.1697,1)">Duschgel</text>
<path d="M301.00 792.00H304.80V801H303.60V793.10H301.00Z"/><text transform="translate(305.64,801) scale(1.2143,1)">0</text><text transform="translate(314.39,801) scale(1.2143,1)">0</text>
<text transform="translate(327.36,801) scale(1.2944,1)">ml</text>
<text transform="translate(432.64,800) scale(1.2143,1)">0</text><text transform="translate(440.05,800) scale(1.5000,1)">,</text><path d="M444.40 791.00H448.20V800H447.00V792.10H444.40Z"/><text transform="translate(449.05,800) scale(1.1639,1)">6</text>
<text transform="translate(490.99,800) scale(1.2143,1)">0</text><text transform="translate(498.40,800) scale(1.5000,1)">,</text><text transform="translate(502.26,800) scale(1.1500,1)">2</text><text transform="translate(510.06,800) scale(1.1500,1)">2</text>
<text transform="translate(550.99,801) scale(1.2143,1)">0</text><text transform="translate(558.40,801) scale(1.5000,1)">,</text><text transform="translate(562.26,801) scale(1.1500,1)">2</text><text transform="translate(570.35,801) scale(1.1639,1)">6</text>
<text transform="translate(623.72,801) scale(1.0645,1)">5</text><text transform="translate(631.38,801) scale(1.1148,1)">9</text><text transform="translate(638.20,801) scale(1.5000,1)">,</text><text transform="translate(642.35,801) scale(1.1639,1)">6</text>
<path d="M698.80 792.00H702.60V801H701.40V793.10H698.80Z"/><text transform="translate(703.38,801) scale(1.1148,1)">9</text><text transform="translate(710.20,801) scale(1.5000,1)">,</text><text transform="translate(714.16,801) scale(1.1500,1)">7</text>
<text transform="translate(47.95,821) scale(1.1270,1)">3</text><text transform="translate(55.87,821) scale(1.0645,1)">5</text>
<text transform="translate(74.75,821) scale(1.0918,1)">Seife (Stück)</text>
<path d="M301.00 812.00H304.80V821H303.60V813.10H301.00Z"/><text transform="translate(305.64,821) scale(1.2143,1)">0</text><text transform="translate(314.39,821) scale(1.2143,1)">0</text>
<text transform="translate(327.72,821) scale(1.1525,1)">g</text>
<text transform="translate(430.39,820) scale(1.2143,1)">0</text><text transform="translate(437.80,820) scale(1.5000,1)">,</text><text transform="translate(441.92,820) scale(1.0645,1)">5</text><text transform="translate(449.36,820) scale(1.1500,1)">2</text>
<text transform="translate(490.99,820) scale(1.2143,1)">0</text><text transform="translate(498.40,820) scale(1.5000,1)">,</text><text transform="translate(502.36,820) scale(1.1500,1)">7</text><text transform="translate(510.42,820) scale(1.0645,1)">5</text>
<text transform="translate(553.29,821) scale(1.2143,1)">0</text><text transform="translate(560.70,821) scale(1.5000,1)">,</text><text transform="translate(565.10,821) scale(1.0968,1)">8</text><path d="M573.45 812.00H577.25V821H576.05V813.10H573.45Z"/>
<text transform="translate(623.77,821) scale(1.0645,1)">5</text><text transform="translate(631.47,821) scale(1.0645,1)">5</text><text transform="translate(637.85,821) scale(1.5000,1)">,</text><text transform="translate(641.99,821) scale(1.2143,1)">0</text>
<text transform="translate(703.05,821) scale(1.0968,1)">8</text><text transform="translate(709.85,821) scale(1.5000,1)">,</text><text transform="translate(713.99,821) scale(1.2143,1)">0</text>
<text transform="translate(47.25,840) scale(1.1270,1)">3</text><text transform="translate(55.20,840) scale(1.1639,1)">6</text>
<text transform="translate(74.15,840) scale(1.1469,1)">Haarshampoo</text>
<path d="M301.00 831.00H304.80V840H303.60V832.10H301.00Z"/><text transform="translate(305.64,840) scale(1.2143,1)">0</text><text transform="translate(314.39,840) scale(1.2143,1)">0</text>
<text transform="translate(327.36,840) scale(1.2944,1)">ml</text>
<text transform="translate(432.64,839) scale(1.2143,1)">0</text><text transform="translate(440.05,839) scale(1.5000,1)">,</text><path d="M444.40 830.00H448.20V839H447.00V831.10H444.40Z"/><text transform="translate(448.86,839) scale(1.1500,1)">7</text>
<text transform="translate(490.99,839) scale(1.2143,1)">0</text><text transform="translate(498.40,839) scale(1.5000,1)">,</text><text transform="translate(502.26,839) scale(1.1500,1)">2</text><text transform="translate(510.20,839) scale(1.1270,1)">3</text>
<text transform="translate(550.99,840) scale(1.2143,1)">0</text><text transform="translate(558.40,840) scale(1.5000,1)">,</text><text transform="translate(562.26,840) scale(1.1500,1)">2</text><text transform="translate(570.16,840) scale(1.1500,1)">7</text>
<text transform="translate(623.42,840) scale(1.0645,1)">5</text><text transform="translate(631.40,840) scale(1.0968,1)">8</text><text transform="translate(638.20,840) scale(1.5000,1)">,</text><text transform="translate(642.16,840) scale(1.1500,1)">7</text>
<text transform="translate(694.36,840) scale(1.1500,1)">2</text><text transform="translate(702.44,840) scale(1.2143,1)">0</text><text transform="translate(709.85,840) scale(1.5000,1)">,</text><text transform="translate(713.99,840) scale(1.2143,1)">0</text>
<text transform="translate(47.25,877) scale(1.1270,1)">3</text><text transform="translate(55.01,877) scale(1.1500,1)">7</text>
<text transform="translate(74.61,877) scale(1.1536,1)">Geschirrspülmittel, flüssig</text>
<path d="M301.00 850.00H304.80V859H303.60V851.10H301.00Z"/><text transform="translate(305.64,859) scale(1.2143,1)">0</text><text transform="translate(314.39,859) scale(1.2143,1)">0</text>
<text transform="translate(328.00,859) scale(1.1642,1)">Anwen-</text>
<text transform="translate(302.09,877) scale(1.2105,1)">dungen</text>
<text transform="translate(430.39,877) scale(1.2143,1)">0</text><text transform="translate(437.80,877) scale(1.5000,1)">,</text><text transform="translate(441.80,877) scale(1.1270,1)">3</text><text transform="translate(449.72,877) scale(1.0645,1)">5</text>
<text transform="translate(489.09,877) scale(1.2143,1)">0</text><text transform="translate(496.50,877) scale(1.5000,1)">,</text><text transform="translate(500.69,877) scale(1.2836,1)">4</text><text transform="translate(509.56,877) scale(1.1500,1)">7</text>
<text transform="translate(549.69,877) scale(1.2143,1)">0</text><text transform="translate(557.10,877) scale(1.5000,1)">,</text><text transform="translate(561.29,877) scale(1.2836,1)">4</text><text transform="translate(570.60,877) scale(1.0968,1)">8</text>
<text transform="translate(623.20,877) scale(1.1270,1)">3</text><text transform="translate(631.15,877) scale(1.1639,1)">6</text><text transform="translate(638.20,877) scale(1.5000,1)">,</text><text transform="translate(642.16,877) scale(1.1500,1)">7</text>
<path d="M707.50 868.00H711.30V877H710.10V869.10H707.50Z"/><text transform="translate(710.80,877) scale(1.5000,1)">,</text><text transform="translate(714.66,877) scale(1.1500,1)">2</text>
<text transform="translate(47.25,897) scale(1.1270,1)">3</text><text transform="translate(55.45,897) scale(1.0968,1)">8</text>
<text transform="translate(75.07,897) scale(1.1661,1)">Toilettenpapier, 3-lagig</text>
<path d="M301.00 888.00H304.80V897H303.60V889.10H301.00Z"/><text transform="translate(305.64,897) scale(1.2143,1)">0</text><text transform="translate(314.39,897) scale(1.2143,1)">0</text>
<text transform="translate(327.29,897) scale(1.2120,1)">Blatt</text>
<text transform="translate(435.54,896) scale(1.2143,1)">0</text><text transform="translate(442.95,896) scale(1.5000,1)">,</text><path d="M447.30 887.00H451.10V896H449.90V888.10H447.30Z"/><path d="M452.15 887.00H455.95V896H454.75V888.10H452.15Z"/>
<text transform="translate(493.34,896) scale(1.2143,1)">0</text><text transform="translate(500.75,896) scale(1.5000,1)">,</text><path d="M505.10 887.00H508.90V896H507.70V888.10H505.10Z"/><text transform="translate(509.56,896) scale(1.1500,1)">7</text>
<text transform="translate(553.94,897) scale(1.2143,1)">0</text><text transform="translate(561.35,897) scale(1.5000,1)">,</text><path d="M565.70 888.00H569.50V897H568.30V889.10H565.70Z"/><text transform="translate(570.16,897) scale(1.1500,1)">7</text>
<text transform="translate(627.27,897) scale(1.0645,1)">5</text><path d="M635.20 888.00H639.00V897H637.80V889.10H635.20Z"/><text transform="translate(638.50,897) scale(1.5000,1)">,</text><text transform="translate(642.58,897) scale(1.1148,1)">9</text>
<text transform="translate(699.44,897) scale(1.2121,1)">-</text><text transform="translate(704.20,897) scale(1.1270,1)">3</text><text transform="translate(710.80,897) scale(1.5000,1)">,</text><text transform="translate(714.80,897) scale(1.1270,1)">3</text>
<text transform="translate(47.55,916) scale(1.1270,1)">3</text><text transform="translate(55.43,916) scale(1.1148,1)">9</text>
<text transform="translate(75.07,916) scale(1.1517,1)">Taschentücher</text>
<path d="M301.00 907.00H304.80V916H303.60V908.10H301.00Z"/><text transform="translate(305.64,916) scale(1.2143,1)">0</text><text transform="translate(314.39,916) scale(1.2143,1)">0</text>
<text transform="translate(327.63,916) scale(1.1397,1)">Stück</text>
<text transform="translate(430.49,915) scale(1.2143,1)">0</text><text transform="translate(437.90,915) scale(1.5000,1)">,</text><text transform="translate(442.02,915) scale(1.0645,1)">5</text><text transform="translate(449.72,915) scale(1.0645,1)">5</text>
<text transform="translate(490.59,915) scale(1.2143,1)">0</text><text transform="translate(498.00,915) scale(1.5000,1)">,</text><text transform="translate(501.96,915) scale(1.1500,1)">7</text><text transform="translate(509.98,915) scale(1.1148,1)">9</text>
<text transform="translate(549.69,916) scale(1.2143,1)">0</text><text transform="translate(557.10,916) scale(1.5000,1)">,</text><text transform="translate(561.50,916) scale(1.0968,1)">8</text><text transform="translate(569.69,916) scale(1.2836,1)">4</text>
<text transform="translate(624.72,916) scale(1.0645,1)">5</text><text transform="translate(632.30,916) scale(1.1270,1)">3</text><text transform="translate(638.90,916) scale(1.5000,1)">,</text><text transform="translate(643.02,916) scale(1.0645,1)">5</text>
<text transform="translate(704.16,916) scale(1.1500,1)">7</text><text transform="translate(710.90,916) scale(1.5000,1)">,</text><text transform="translate(715.02,916) scale(1.0645,1)">5</text>
<text transform="translate(45.79,935) scale(1.2836,1)">4</text><text transform="translate(54.84,935) scale(1.2143,1)">0</text>
<text transform="translate(74.15,935) scale(1.1516,1)">Katzenfutter, Dose</text>
<path d="M301.10 926.00H304.90V935H303.70V927.10H301.10Z"/>
<text transform="translate(310.55,935) scale(1.1901,1)">kg</text>
<text transform="translate(428.69,935) scale(1.2143,1)">0</text><text transform="translate(436.10,935) scale(1.5000,1)">,</text><text transform="translate(440.18,935) scale(1.1148,1)">9</text><text transform="translate(448.39,935) scale(1.2836,1)">4</text>
<path d="M493.80 926.00H497.60V935H496.40V927.10H493.80Z"/><text transform="translate(497.10,935) scale(1.5000,1)">,</text><text transform="translate(501.29,935) scale(1.2836,1)">4</text><text transform="translate(510.06,935) scale(1.1500,1)">2</text>
<path d="M554.40 926.00H558.20V935H557.00V927.10H554.40Z"/><text transform="translate(557.70,935) scale(1.5000,1)">,</text><text transform="translate(561.89,935) scale(1.2836,1)">4</text><text transform="translate(570.66,935) scale(1.1500,1)">2</text>
<text transform="translate(629.87,935) scale(1.0645,1)">5</text><path d="M637.80 926.00H641.60V935H640.40V927.10H637.80Z"/><text transform="translate(641.10,935) scale(1.5000,1)">,</text><path d="M645.45 926.00H649.25V935H648.05V927.10H645.45Z"/>
<text transform="translate(702.44,935) scale(1.2143,1)">0</text><text transform="translate(709.85,935) scale(1.5000,1)">,</text><text transform="translate(713.99,935) scale(1.2143,1)">0</text>
</g>
</svg>
</body></html>
